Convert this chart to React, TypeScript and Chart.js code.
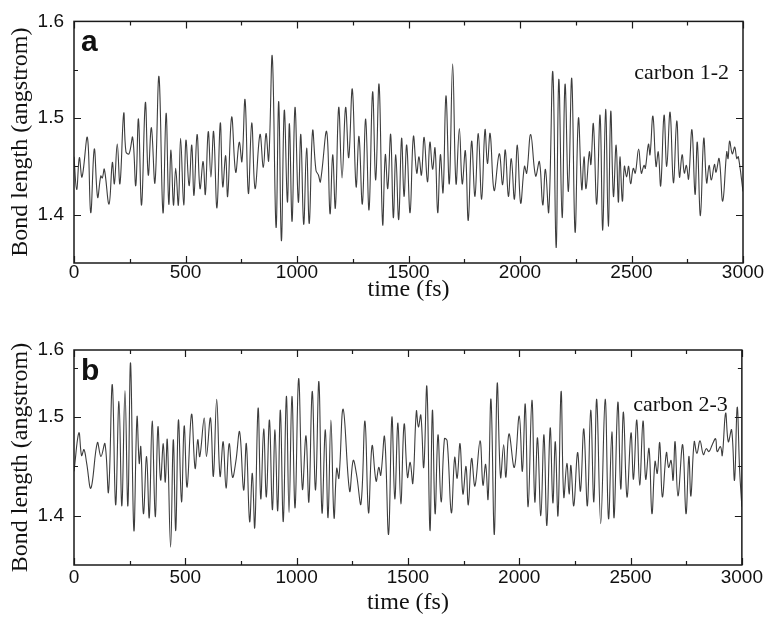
import React, { useEffect, useRef } from 'react';
import { Chart, registerables } from 'chart.js';
Chart.register(...registerables);

// ---- Panel a : carbon 1-2 (time in fs, bond length in angstrom) ----
const timeA = [0,12,24,36,60,75,91,106,120,127,136,157,172,181,194,206,223,233,247,263,277,289,303,320,333,347,363,381,399,413,425,435,446,456,468,478,492,502,516,528,538,552,565,579,589,602,614,626,641,656,667,680,689,707,725,741,753,767,782,797,812,834,849,861,873,889,906,918,930,943,957,966,978,991,1006,1017,1030,1043,1055,1070,1085,1096,1105,1133,1148,1160,1172,1187,1202,1218,1232,1248,1265,1278,1293,1308,1323,1339,1353,1368,1384,1396,1407,1420,1432,1443,1456,1469,1480,1492,1507,1522,1537,1547,1558,1570,1585,1596,1608,1619,1631,1643,1655,1668,1683,1698,1713,1728,1741,1755,1768,1783,1798,1813,1828,1843,1854,1866,1884,1907,1922,1934,1948,1961,1975,1988,2003,2020,2030,2048,2070,2087,2102,2114,2129,2147,2162,2174,2189,2202,2217,2232,2247,2262,2277,2287,2296,2311,2318,2329,2344,2359,2371,2384,2396,2407,2419,2431,2441,2448,2459,2468,2478,2487,2496,2508,2517,2532,2544,2556,2562,2576,2583,2596,2610,2620,2631,2646,2658,2673,2688,2703,2715,2727,2737,2746,2756,2771,2785,2795,2809,2824,2837,2848,2858,2872,2879,2893,2909,2927,2933,2940,2952,2963,2972,2979,3000];
const bondA = [1.460,1.426,1.459,1.439,1.480,1.402,1.468,1.418,1.440,1.438,1.447,1.411,1.454,1.432,1.473,1.432,1.505,1.465,1.463,1.480,1.430,1.499,1.410,1.516,1.441,1.490,1.433,1.543,1.402,1.505,1.411,1.467,1.410,1.448,1.410,1.479,1.410,1.477,1.430,1.472,1.420,1.483,1.427,1.455,1.421,1.486,1.439,1.486,1.407,1.495,1.429,1.461,1.419,1.501,1.444,1.475,1.455,1.519,1.422,1.495,1.427,1.483,1.449,1.484,1.456,1.564,1.387,1.517,1.373,1.508,1.413,1.494,1.393,1.511,1.413,1.483,1.390,1.469,1.391,1.487,1.446,1.441,1.434,1.486,1.401,1.462,1.407,1.511,1.438,1.511,1.459,1.530,1.429,1.481,1.411,1.499,1.405,1.527,1.436,1.535,1.390,1.462,1.427,1.483,1.397,1.462,1.395,1.479,1.419,1.472,1.402,1.481,1.443,1.460,1.441,1.480,1.434,1.475,1.447,1.469,1.402,1.462,1.423,1.523,1.432,1.556,1.432,1.489,1.432,1.466,1.394,1.476,1.419,1.484,1.416,1.488,1.453,1.484,1.425,1.463,1.431,1.467,1.419,1.458,1.416,1.472,1.412,1.450,1.443,1.483,1.440,1.455,1.410,1.447,1.403,1.548,1.366,1.540,1.397,1.535,1.424,1.541,1.382,1.500,1.426,1.460,1.427,1.465,1.452,1.494,1.411,1.503,1.384,1.509,1.388,1.507,1.419,1.472,1.413,1.460,1.414,1.450,1.439,1.450,1.432,1.448,1.443,1.468,1.443,1.451,1.448,1.473,1.462,1.502,1.450,1.465,1.430,1.503,1.450,1.506,1.433,1.497,1.439,1.462,1.443,1.451,1.437,1.488,1.421,1.475,1.399,1.479,1.433,1.451,1.436,1.452,1.444,1.458,1.414,1.465,1.458,1.476,1.463,1.470,1.458,1.460,1.424];

// ---- Panel b : carbon 2-3 ----
const timeB = [0,22,34,45,57,76,105,121,139,155,172,187,202,215,229,242,254,269,283,293,300,312,326,338,351,365,377,389,401,410,419,434,446,457,469,483,495,508,528,544,556,565,585,595,613,626,641,656,670,683,697,712,727,744,762,774,789,801,812,827,839,852,864,878,891,903,915,927,940,954,966,979,993,1009,1026,1042,1055,1070,1085,1100,1114,1129,1141,1154,1168,1180,1190,1209,1238,1254,1269,1289,1307,1323,1339,1357,1369,1378,1395,1413,1428,1441,1455,1468,1483,1498,1510,1522,1538,1547,1558,1571,1585,1599,1610,1622,1635,1649,1664,1676,1695,1710,1721,1734,1747,1761,1771,1786,1801,1824,1837,1849,1860,1873,1888,1901,1916,1930,1940,1954,1978,2000,2014,2027,2040,2057,2070,2082,2097,2111,2124,2139,2151,2162,2174,2188,2200,2214,2224,2232,2245,2262,2275,2290,2306,2321,2335,2348,2366,2386,2401,2416,2426,2443,2456,2468,2484,2502,2513,2528,2541,2556,2568,2583,2596,2610,2620,2631,2643,2661,2671,2682,2691,2700,2713,2734,2749,2762,2771,2786,2798,2812,2827,2840,2852,2867,2882,2889,2904,2912,2927,2939,2954,2967,2979,2990,3000];
const bondB = [1.445,1.484,1.461,1.467,1.453,1.428,1.474,1.460,1.473,1.424,1.533,1.411,1.516,1.410,1.527,1.410,1.555,1.385,1.500,1.453,1.470,1.402,1.460,1.398,1.496,1.399,1.490,1.436,1.473,1.434,1.477,1.368,1.477,1.385,1.497,1.414,1.491,1.429,1.503,1.448,1.477,1.460,1.499,1.460,1.499,1.440,1.518,1.440,1.475,1.428,1.473,1.439,1.455,1.485,1.426,1.473,1.394,1.443,1.388,1.509,1.417,1.488,1.419,1.497,1.406,1.487,1.405,1.507,1.394,1.521,1.403,1.521,1.408,1.539,1.427,1.481,1.414,1.526,1.426,1.536,1.403,1.487,1.398,1.497,1.398,1.448,1.438,1.508,1.425,1.456,1.442,1.412,1.496,1.403,1.471,1.435,1.449,1.441,1.480,1.381,1.500,1.417,1.494,1.412,1.493,1.439,1.454,1.433,1.506,1.490,1.502,1.449,1.531,1.385,1.507,1.402,1.482,1.414,1.478,1.476,1.403,1.459,1.438,1.473,1.422,1.450,1.411,1.458,1.430,1.476,1.431,1.452,1.417,1.518,1.381,1.534,1.439,1.472,1.439,1.483,1.449,1.501,1.445,1.513,1.409,1.517,1.414,1.479,1.400,1.482,1.390,1.489,1.413,1.475,1.400,1.526,1.419,1.453,1.422,1.451,1.410,1.464,1.425,1.488,1.410,1.507,1.414,1.518,1.392,1.518,1.397,1.485,1.398,1.515,1.427,1.505,1.419,1.484,1.437,1.497,1.431,1.496,1.437,1.468,1.402,1.455,1.443,1.474,1.419,1.464,1.449,1.456,1.436,1.475,1.420,1.472,1.402,1.460,1.420,1.475,1.463,1.476,1.462,1.468,1.465,1.472,1.478,1.465,1.470,1.461,1.504,1.475,1.487,1.436,1.510,1.446,1.409];

// ---- axes ----
const xMajorTicks = [0, 500, 1000, 1500, 2000, 2500, 3000];
const xMinorTicks = [250, 750, 1250, 1750, 2250, 2750];
const yMajorTicksA = [1.4, 1.5, 1.6];
const yTickLabelsA = ['1.4', '1.5', '1.6'];
const yMajorTicksB = [1.4, 1.5, 1.568];
const yTickLabelsB = ['1.4', '1.5', '1.6'];
const yMinorTicks = [1.45, 1.55];

const SANS = '"Liberation Sans", Arial, sans-serif';
const SERIF = '"Liberation Serif", "Times New Roman", serif';

const framePlugin = {
  id: 'frame',
  afterDraw(chart: any, _args: any, opts: any) {
    const { ctx, chartArea, scales } = chart;
    const { left, right, top, bottom } = chartArea;
    const x = scales.x;
    const y = scales.y;
    ctx.save();
    ctx.strokeStyle = '#1a1a1a';
    ctx.lineWidth = 1.5;
    ctx.strokeRect(left, top, right - left, bottom - top);
    ctx.lineWidth = 1.2;
    const xt = (vals: number[], len: number) => {
      vals.forEach((v) => {
        const p = Math.round(x.getPixelForValue(v)) + 0.5;
        ctx.beginPath();
        ctx.moveTo(p, bottom);
        ctx.lineTo(p, bottom - len);
        ctx.moveTo(p, top);
        ctx.lineTo(p, top + len);
        ctx.stroke();
      });
    };
    const yt = (vals: number[], len: number) => {
      vals.forEach((v) => {
        if (v >= y.max) return;
        const p = Math.round(y.getPixelForValue(v)) + 0.5;
        ctx.beginPath();
        ctx.moveTo(left, p);
        ctx.lineTo(left + len, p);
        ctx.moveTo(right, p);
        ctx.lineTo(right - len, p);
        ctx.stroke();
      });
    };
    xt(xMajorTicks, 7);
    xt(xMinorTicks, 4);
    yt(opts.yMajor, 7);
    yt(yMinorTicks, 4);

    ctx.fillStyle = '#111';
    ctx.font = 'bold 30px ' + SANS;
    ctx.textAlign = 'left';
    ctx.textBaseline = 'alphabetic';
    ctx.fillText(opts.letter, left + 7, top + 30);
    ctx.font = '22px ' + SERIF;
    ctx.textAlign = 'right';
    ctx.textBaseline = 'middle';
    ctx.fillText(opts.caption, right - 14, top + opts.captionDy);
    ctx.restore();
  },
};

type PanelProps = {
  times: number[];
  values: number[];
  yMax: number;
  yMajor: number[];
  yLabels: string[];
  letter: string;
  caption: string;
  captionDy: number;
  height: number;
  padTop: number;
  axisHeight: number;
  xTickPad: number;
  xTitlePad: number;
};

function Panel(p: PanelProps) {
  const ref = useRef<HTMLCanvasElement | null>(null);
  useEffect(() => {
    if (!ref.current) return;
    const chart = new Chart(ref.current, {
      type: 'line',
      data: {
        datasets: [
          {
            data: p.times.map((t, i) => ({ x: t, y: p.values[i] })),
            borderColor: '#3d3d3d',
            borderWidth: 1.1,
            pointRadius: 0,
            fill: false,
            tension: 0.4,
          },
        ],
      },
      options: {
        responsive: false,
        animation: false,
        layout: { padding: { top: p.padTop, right: 23, left: 0, bottom: 0 } },
        plugins: {
          legend: { display: false },
          tooltip: { enabled: false },
          frame: { letter: p.letter, caption: p.caption, yMajor: p.yMajor, captionDy: p.captionDy },
        } as any,
        scales: {
          x: {
            type: 'linear',
            min: 0,
            max: 3000,
            grid: { display: false, drawTicks: false },
            border: { display: false },
            afterBuildTicks: (s: any) => {
              s.ticks = xMajorTicks.map((v) => ({ value: v }));
            },
            afterFit: (s: any) => {
              s.height = p.axisHeight;
            },
            ticks: {
              maxRotation: 0,
              autoSkip: false,
              padding: p.xTickPad,
              color: '#111',
              font: { family: SANS, size: 19, lineHeight: 1 },
              callback: (v: any) => String(v),
            },
            title: {
              display: true,
              text: 'time (fs)',
              color: '#111',
              font: { family: SERIF, size: 24 },
              padding: { top: 0, bottom: p.xTitlePad },
            },
          },
          y: {
            type: 'linear',
            min: 1.35,
            max: p.yMax,
            grid: { display: false, drawTicks: false },
            border: { display: false },
            afterBuildTicks: (s: any) => {
              s.ticks = p.yMajor.map((v) => ({ value: v }));
            },
            afterFit: (s: any) => {
              s.width = 74;
            },
            ticks: {
              autoSkip: false,
              padding: 10,
              color: '#111',
              font: { family: SANS, size: 19 },
              callback: (_v: any, i: number) => p.yLabels[i],
            },
            title: {
              display: true,
              text: 'Bond length (angstrom)',
              color: '#111',
              font: { family: SERIF, size: 24 },
              padding: { top: 6, bottom: 0 },
            },
          },
        },
      },
      plugins: [framePlugin as any],
    });
    return () => chart.destroy();
  }, []);
  return <canvas ref={ref} width={766} height={p.height} style={{ display: 'block' }} />;
}

export default function App() {
  return (
    <div style={{ position: 'absolute', left: 0, top: 0, width: 766, height: 618, background: '#fff' }}>
      <div style={{ position: 'absolute', left: 0, top: 0 }}>
        <Panel times={timeA} values={bondA} yMax={1.6} yMajor={yMajorTicksA} yLabels={yTickLabelsA}
          letter="a" caption="carbon 1-2" captionDy={52} height={305} padTop={20} axisHeight={42} xTickPad={0} xTitlePad={1} />
      </div>
      <div style={{ position: 'absolute', left: 0, top: 305 }}>
        <Panel times={timeB} values={bondB} yMax={1.568} yMajor={yMajorTicksB} yLabels={yTickLabelsB}
          letter="b" caption="carbon 2-3" captionDy={55} height={313} padTop={45} axisHeight={53} xTickPad={3} xTitlePad={1} />
      </div>
    </div>
  );
}
